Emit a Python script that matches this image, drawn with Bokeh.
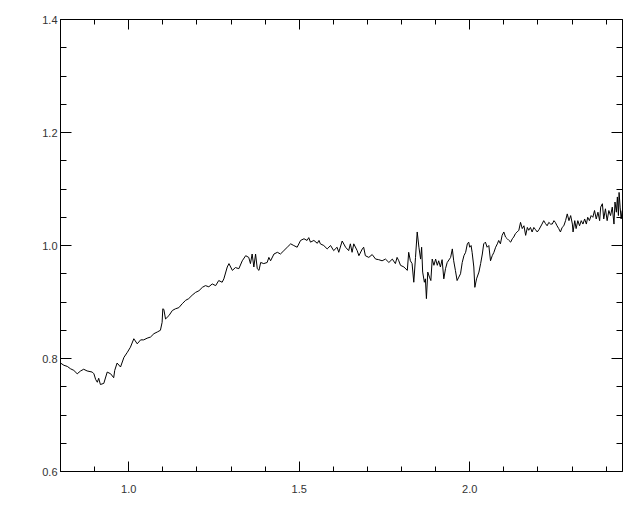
from bokeh.plotting import figure
from bokeh.models import (LinearAxis, SingleIntervalTicker, PrintfTickFormatter, Range1d,
                          ColumnDataSource, CustomJSTickFormatter)
from bokeh.embed import file_html
from bokeh.resources import INLINE

wavelength = [
    0.800, 0.810, 0.820, 0.829, 0.839, 0.849, 0.859, 0.868, 0.878, 0.893,
    0.898, 0.903, 0.908, 0.912, 0.917, 0.927, 0.937, 0.947, 0.956, 0.959,
    0.966, 0.976, 0.986, 0.996, 1.005, 1.015, 1.025, 1.035, 1.044, 1.054,
    1.064, 1.074, 1.084, 1.093, 1.098, 1.100, 1.103, 1.108, 1.118, 1.128,
    1.137, 1.147, 1.157, 1.167, 1.176, 1.186, 1.196, 1.206, 1.216, 1.225,
    1.235, 1.245, 1.255, 1.264, 1.274, 1.279, 1.289, 1.294, 1.304, 1.313,
    1.323, 1.333, 1.343, 1.352, 1.357, 1.362, 1.367, 1.372, 1.377, 1.382,
    1.387, 1.396, 1.406, 1.411, 1.416, 1.426, 1.436, 1.445, 1.455, 1.465,
    1.475, 1.484, 1.494, 1.504, 1.514, 1.523, 1.528, 1.533, 1.543, 1.553,
    1.558, 1.562, 1.572, 1.582, 1.592, 1.601, 1.611, 1.616, 1.626, 1.636,
    1.645, 1.650, 1.655, 1.660, 1.670, 1.675, 1.685, 1.689, 1.694, 1.704,
    1.714, 1.724, 1.733, 1.743, 1.753, 1.763, 1.773, 1.782, 1.787, 1.792,
    1.797, 1.807, 1.817, 1.821, 1.826, 1.831, 1.836, 1.841, 1.846, 1.851,
    1.856, 1.859, 1.862, 1.867, 1.870, 1.873, 1.877, 1.882, 1.886, 1.890,
    1.895, 1.900, 1.905, 1.909, 1.914, 1.919, 1.924, 1.929, 1.934, 1.944,
    1.949, 1.953, 1.958, 1.963, 1.968, 1.973, 1.978, 1.983, 1.988, 1.993,
    1.997, 2.000, 2.004, 2.007, 2.012, 2.015, 2.020, 2.027, 2.032, 2.037,
    2.041, 2.046, 2.051, 2.056, 2.061, 2.066, 2.071, 2.076, 2.081, 2.085,
    2.090, 2.095, 2.100, 2.105, 2.110, 2.115, 2.120, 2.125, 2.129, 2.134,
    2.139, 2.144, 2.149, 2.154, 2.159, 2.164, 2.169, 2.173, 2.178, 2.183,
    2.188, 2.193, 2.198, 2.203, 2.212, 2.217, 2.222, 2.227, 2.232, 2.237,
    2.242, 2.247, 2.251, 2.256, 2.261, 2.266, 2.271, 2.276, 2.281, 2.286,
    2.291, 2.296, 2.301, 2.303, 2.308, 2.312, 2.317, 2.322, 2.327, 2.332,
    2.337, 2.342, 2.346, 2.351, 2.356, 2.361, 2.366, 2.371, 2.376, 2.381,
    2.384, 2.389, 2.393, 2.398, 2.403, 2.408, 2.413, 2.418, 2.423, 2.426,
    2.430, 2.433, 2.436, 2.438, 2.441, 2.444, 2.447,
]

flux = [
    0.792, 0.788, 0.786, 0.782, 0.779, 0.773, 0.778, 0.781, 0.778, 0.776,
    0.773, 0.763, 0.758, 0.765, 0.754, 0.756, 0.776, 0.773, 0.766, 0.779,
    0.792, 0.785, 0.802, 0.811, 0.820, 0.835, 0.826, 0.833, 0.833, 0.836,
    0.838, 0.844, 0.847, 0.850, 0.864, 0.888, 0.887, 0.870, 0.876, 0.885,
    0.888, 0.890, 0.897, 0.903, 0.906, 0.912, 0.917, 0.920, 0.926, 0.929,
    0.927, 0.932, 0.929, 0.938, 0.935, 0.941, 0.962, 0.968, 0.956, 0.961,
    0.959, 0.973, 0.982, 0.979, 0.968, 0.985, 0.962, 0.985, 0.959, 0.956,
    0.970, 0.968, 0.970, 0.979, 0.973, 0.985, 0.988, 0.985, 0.991, 0.997,
    1.003, 1.000, 0.997, 1.009, 1.012, 1.009, 1.014, 1.006, 1.009, 1.004,
    1.009, 1.003, 1.000, 0.994, 1.000, 0.991, 0.997, 0.988, 1.008, 0.997,
    0.991, 1.003, 0.988, 1.003, 0.991, 0.982, 0.994, 0.997, 0.982, 0.979,
    0.984, 0.976, 0.975, 0.973, 0.976, 0.970, 0.976, 0.968, 0.979, 0.973,
    0.965, 0.962, 0.956, 0.988, 0.973, 0.968, 0.935, 0.979, 1.024, 0.997,
    0.976, 0.997, 0.953, 0.935, 0.941, 0.906, 0.953, 0.944, 0.938, 0.976,
    0.965, 0.976, 0.965, 0.973, 0.962, 0.975, 0.941, 0.959, 0.970, 0.979,
    0.994, 0.973, 0.956, 0.938, 0.944, 0.950, 0.970, 0.982, 0.988, 1.003,
    1.006, 0.997, 1.000, 0.988, 0.962, 0.926, 0.941, 0.953, 0.968, 0.985,
    1.003, 1.006, 0.997, 1.000, 0.973, 0.982, 0.988, 0.997, 1.003, 1.009,
    1.003, 1.018, 1.024, 1.015, 1.012, 1.009, 1.006, 1.012, 1.015, 1.021,
    1.024, 1.027, 1.041, 1.030, 1.035, 1.018, 1.032, 1.027, 1.032, 1.024,
    1.032, 1.028, 1.024, 1.028, 1.038, 1.044, 1.039, 1.035, 1.041, 1.038,
    1.038, 1.044, 1.041, 1.035, 1.030, 1.024, 1.032, 1.035, 1.044, 1.056,
    1.044, 1.053, 1.038, 1.024, 1.044, 1.030, 1.044, 1.035, 1.044, 1.038,
    1.047, 1.038, 1.050, 1.044, 1.053, 1.050, 1.062, 1.047, 1.059, 1.044,
    1.068, 1.074, 1.047, 1.065, 1.044, 1.062, 1.053, 1.068, 1.038, 1.077,
    1.059, 1.086, 1.053, 1.094, 1.068, 1.047, 1.062,
]

x_start, x_end = 0.8, 2.448
y_start, y_end = 0.6, 1.4001

source = ColumnDataSource(data=dict(x=wavelength, y=flux))

p = figure(width=632, height=504, output_backend="svg", toolbar_location=None,
           x_range=Range1d(x_start, x_end), y_range=Range1d(y_start, y_end),
           x_axis_location=None, y_axis_location=None,
           min_border_left=60, min_border_right=10, min_border_top=19, min_border_bottom=33)
p.grid.visible = False
p.outline_line_color = None
p.background_fill_color = "white"
p.border_fill_color = "white"

FONT = "Liberation Sans"


def make_axis(xdir, labels):
    if xdir:
        t = SingleIntervalTicker(interval=0.5, num_minor_ticks=5)
        maj, mnr = 10, 5
    else:
        t = SingleIntervalTicker(interval=0.2, num_minor_ticks=4)
        maj, mnr = 11, 6
    if labels:
        fmt = PrintfTickFormatter(format="%.1f")
    else:
        fmt = CustomJSTickFormatter(code="return '';")
    ax = LinearAxis(ticker=t, formatter=fmt)
    ax.axis_line_color = "black"
    ax.axis_line_width = 1
    ax.major_tick_line_color = "black"
    ax.minor_tick_line_color = "black"
    ax.major_tick_in = maj
    ax.major_tick_out = 0
    ax.minor_tick_in = mnr
    ax.minor_tick_out = 0
    ax.major_label_text_font = FONT
    ax.major_label_text_font_size = "11px"
    ax.major_label_text_color = "#333333"
    if labels:
        ax.major_label_standoff = 13 if xdir else 3
    else:
        ax.major_label_standoff = 0
    return ax


p.add_layout(make_axis(True, True), "below")
p.add_layout(make_axis(True, False), "above")
p.add_layout(make_axis(False, True), "left")
p.add_layout(make_axis(False, False), "right")

p.line("x", "y", source=source, line_color="black", line_width=1)

open("out.html", "w").write(file_html(p, INLINE))
